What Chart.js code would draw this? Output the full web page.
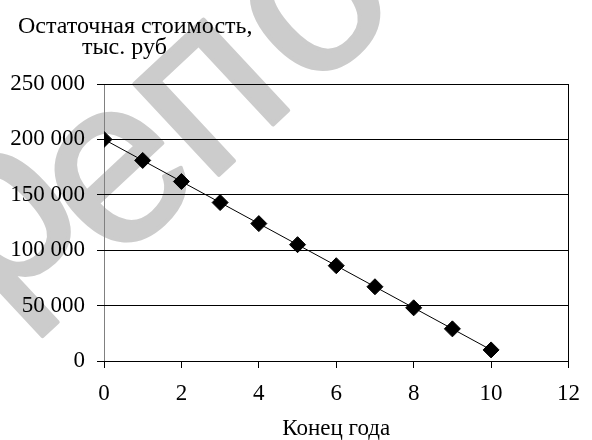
<!DOCTYPE html>
<html>
<head>
<meta charset="utf-8">
<script src="https://cdn.jsdelivr.net/npm/chart.js@4.4.1/dist/chart.umd.min.js"></script>
<style>
  html, body { margin: 0; padding: 0; background: #fff; }
</style>
</head>
<body>
<canvas id="chart" width="592" height="440"></canvas>
<script>
const years = [0, 1, 2, 3, 4, 5, 6, 7, 8, 9, 10];
const residualValues = [200000, 181000, 162000, 143000, 124000, 105000, 86000, 67000, 48000, 29000, 10000];
const xTickValues = [0, 2, 4, 6, 8, 10, 12];
const yTickValues = [0, 50000, 100000, 150000, 200000, 250000];
const yTitleLines = ["Остаточная стоимость,", "тыс. руб"];
const xTitle = "Конец года";
const watermarkLetters = ["р", "е", "п", "о"];

const serif = "'Liberation Serif', 'Times New Roman', serif";

function formatThousands(v) {
  return String(v).replace(/\B(?=(\d{3})+(?!\d))/g, " ");
}

// grey diagonal watermark under the chart, one letter at a time
const watermark = {
  id: "watermark",
  beforeDraw(chart) {
    const c = chart.ctx;
    const size = 235;
    const centres = [[4, 222], [120, 178], [212, 98], [316, 6]];
    c.save();
    c.font = size + "px 'Liberation Sans', sans-serif";
    c.fillStyle = "#cccccc";
    c.strokeStyle = "#cccccc";
    c.lineWidth = 4;
    c.lineJoin = "round";
    c.textAlign = "center";
    c.textBaseline = "alphabetic";
    watermarkLetters.forEach((ch, i) => {
      c.save();
      c.translate(centres[i][0], centres[i][1]);
      c.rotate(-0.75);
      c.fillText(ch, 0, size * 0.26);
      c.strokeText(ch, 0, size * 0.26);
      c.restore();
    });
    c.restore();
  },
};

// y axis caption sits above the plot, horizontal
const yCaption = {
  id: "yCaption",
  afterDraw(chart) {
    const c = chart.ctx;
    c.save();
    c.font = "24px " + serif;
    c.fillStyle = "#000";
    c.textAlign = "left";
    c.textBaseline = "alphabetic";
    c.fillText(yTitleLines[0], 18, 33);
    c.fillText(yTitleLines[1], 82, 54);
    c.restore();
  },
};

const ctx = document.getElementById("chart").getContext("2d");

new Chart(ctx, {
  type: "scatter",
  plugins: [watermark, yCaption],
  data: {
    datasets: [
      {
        data: years.map((x, i) => ({ x, y: residualValues[i] })),
        showLine: true,
        borderColor: "#000",
        borderWidth: 1,
        pointStyle: "rectRot",
        pointRadius: 8,
        pointBackgroundColor: "#000",
        pointBorderColor: "#000",
        pointBorderWidth: 1,
      },
    ],
  },
  options: {
    responsive: false,
    animation: false,
    layout: {
      padding: { top: 84, right: 18, bottom: 0, left: 0 },
    },
    plugins: {
      legend: { display: false },
      tooltip: { enabled: false },
    },
    scales: {
      x: {
        type: "linear",
        min: 0,
        max: 12,
        afterBuildTicks: (scale) => {
          scale.ticks = xTickValues.map((v) => ({ value: v }));
        },
        afterFit: (scale) => {
          scale.height = 79;
        },
        grid: {
          drawOnChartArea: true,
          drawTicks: true,
          tickLength: 7,
          tickColor: "#000",
          lineWidth: 1,
          color: (c) => {
            if (c.tick && c.tick.value === 0) return "#808080";
            if (c.tick && c.tick.value === 12) return "#000";
            return "rgba(0,0,0,0)";
          },
        },
        border: { display: true, color: "#000", width: 1 },
        ticks: {
          padding: 12,
          color: "#000",
          font: { size: 23, family: serif },
          callback: (v) => String(v),
        },
        title: {
          display: true,
          text: xTitle,
          color: "#000",
          font: { size: 23, family: serif, lineHeight: 1 },
          padding: { top: 0, bottom: 0 },
        },
      },
      y: {
        min: 0,
        max: 250000,
        afterBuildTicks: (scale) => {
          scale.ticks = yTickValues.map((v) => ({ value: v }));
        },
        afterFit: (scale) => {
          scale.width = 104;
        },
        grid: {
          drawOnChartArea: true,
          drawTicks: true,
          tickLength: 7,
          color: "#000",
          lineWidth: 1,
        },
        border: { display: false },
        ticks: {
          padding: 12,
          color: "#000",
          font: { size: 23, family: serif },
          callback: (v) => formatThousands(v),
        },
      },
    },
  },
});
</script>
</body>
</html>
